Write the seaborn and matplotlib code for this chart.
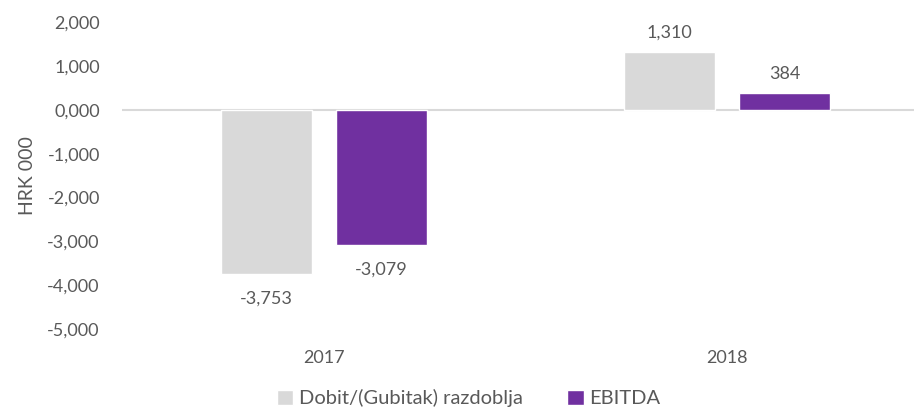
import pandas as pd
import matplotlib.pyplot as plt
import seaborn as sns

# Podaci iz grafikona (HRK 000)
godine = ["2017", "2018"]
serije = ["Dobit/(Gubitak) razdoblja", "EBITDA"]
dobit = [-3753, 1310]
ebitda = [-3079, 384]
y_ticks = [2000, 1000, 0, -1000, -2000, -3000, -4000, -5000]
y_tick_labels = ["2,000", "1,000", "0,000", "-1,000", "-2,000", "-3,000", "-4,000", "-5,000"]

df = pd.DataFrame({
    "Godina": godine * 2,
    "Serija": [serije[0]] * 2 + [serije[1]] * 2,
    "Vrijednost": dobit + ebitda,
})

sns.set_style("white")
plt.rcParams["font.family"] = ["Lato", "DejaVu Sans"]
tekst = "#595959"

fig = plt.figure(figsize=(9.14, 4.17), dpi=100)
# područje crteža ide malo preko desnog ruba (kao u izvorniku)
ax = fig.add_axes([0.1335, 0.211, 0.883, 0.736])

sns.barplot(data=df, x="Godina", y="Vrijednost", hue="Serija",
            palette=["#d9d9d9", "#7030a0"], width=0.57, gap=0.21,
            saturation=1, ax=ax, legend=True)

ax.set_ylim(-5000, 2000)
ax.set_xlim(-0.5, 1.5)
ax.set_yticks(y_ticks)
ax.set_yticklabels(y_tick_labels)
ax.tick_params(axis="both", length=0, labelsize=13, colors=tekst)
ax.tick_params(axis="y", pad=16)
ax.tick_params(axis="x", pad=15)
ax.axhline(0, color="#d9d9d9", lw=1.5, zorder=0)
for s in ax.spines.values():
    s.set_visible(False)
ax.set_xlabel("")
ax.set_ylabel("HRK 000", fontsize=14, color=tekst, labelpad=8)

# Oznake vrijednosti
for cont in ax.containers:
    for bar in cont:
        v = bar.get_height()
        x = bar.get_x() + bar.get_width() / 2
        off = 260 if v >= 0 else -380
        ax.text(x, v + off, f"{v:,.0f}", ha="center",
                va="bottom" if v >= 0 else "top", fontsize=13, color=tekst)

ax.get_legend().remove()
handles, labels = ax.get_legend_handles_labels()
fig.legend(handles, labels, loc="center", bbox_to_anchor=(0.513, 0.045), ncol=2,
           frameon=False, fontsize=14.5, labelcolor=tekst, handlelength=0.8,
           handleheight=0.8, handletextpad=0.3, columnspacing=2.2)

fig.savefig("out.png", dpi=100)
